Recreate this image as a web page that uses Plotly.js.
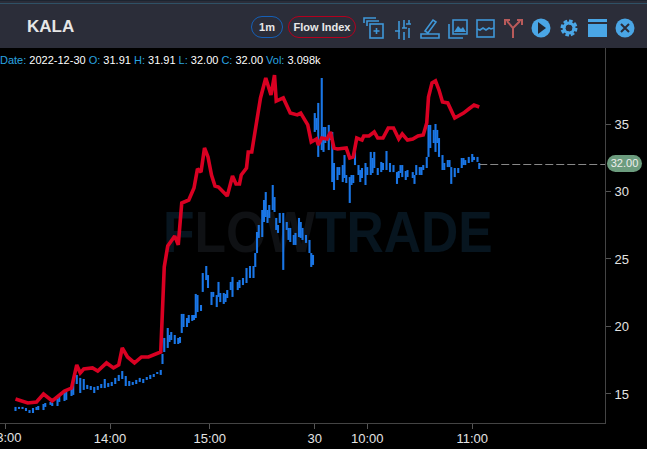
<!DOCTYPE html>
<html>
<head>
<meta charset="utf-8">
<script src="https://cdn.plot.ly/plotly-3.0.1.min.js"></script>
<style>
html, body { margin: 0; padding: 0; background: #000; overflow: hidden; font-family: "Liberation Sans", Arial, sans-serif; }
#wrap { position: relative; width: 647px; height: 449px; overflow: hidden; }
#mark { position: absolute; left: 163px; top: 198px; font: bold 58px "Liberation Sans", Arial, sans-serif; color: #07151f; white-space: nowrap; transform: scaleX(0.89); transform-origin: left top; }
#mark span { color: #0f1114; }
#chart { position: absolute; left: 0; top: 0; width: 647px; height: 449px; }
#head { position: absolute; left: 0; top: 0; width: 647px; height: 48px; background: #2b2d39; border-top: 1px solid #1c2430; box-sizing: border-box; }
#head:before { content: ""; position: absolute; left: 0; right: 0; top: 2px; height: 1px; background: #2f5166; }
#sym { position: absolute; left: 27px; top: 16px; font-size: 17px; font-weight: bold; color: #e6e6e6; }
.pill { position: absolute; top: 15px; height: 20px; line-height: 20px; text-align: center; font-size: 11px; font-weight: bold; color: #e8e8e8; border-radius: 12px; }
#head svg { position: absolute; left: 0; top: 0; }
#info { position: absolute; left: 0; top: 54px; font-size: 11px; line-height: 13px; color: #fff; white-space: pre; }
#info b { font-weight: normal; color: #2aa5e0; }
#last { position: absolute; left: 607px; top: 155px; width: 35px; height: 17px; line-height: 17px; text-align: center; font-size: 11px; color: #eee; background: #6c9c7e; border-radius: 9px; }
</style>
</head>
<body>
<div id="wrap">
  <div id="mark">F<span>LOW</span>TRADE</div>
  <div id="chart"></div>
  <div id="head">
    <div id="sym">KALA</div>
    <div class="pill" style="left:251px;width:30px;border:1.5px solid #1560b8">1m</div>
    <div class="pill" style="left:288px;width:66px;border:1.5px solid #b4001e">Flow Index</div>
    <svg width="647" height="48" fill="none" stroke="#3f97d8" stroke-width="1.6">
      <path d="M364 22v-5h12M367 25v-5h12"/><rect x="370" y="23" width="13" height="14"/><path d="M376.500 27v6M373.500 30h6"/>
      <path d="M395 30h5M399 20v18M404 19v8M404 31v8M409 19v4M409 27v10M402 27h5M406 23h5"/>
      <path d="M421 37h18v-4h-18zM425 30l8-11 3 2-8 11z"/>
      <path d="M449 23v14h14M453 19h14v14h-14z"/><path d="M454 31l4-6 3 3 2-2 3 5z" fill="#3f97d8" stroke="none"/>
      <rect x="477" y="19" width="17" height="17"/><path d="M477 28l3 1 3-2 3 2 3-2 2 1 3-1"/>
      <path d="M513 37v-10l-6-7M513 27l7-7M505 24v-5h5M517 19h5v5" stroke="#b85a5a" stroke-width="2"/>
      <circle cx="541" cy="27" r="9.500" fill="#4aa6e6" stroke="none"/><path d="M538 21l8 6-8 6z" fill="#23252f" stroke="none"/>
      <circle cx="569" cy="27" r="6" stroke="#4aa6e6" stroke-width="5" stroke-dasharray="3 1.600"/><circle cx="569" cy="27" r="5" stroke="#4aa6e6" stroke-width="3"/>
      <rect x="588" y="18" width="19" height="18" fill="#4aa6e6" stroke="none"/><rect x="588" y="21" width="19" height="2" fill="#2b2d39" stroke="none"/>
      <circle cx="625" cy="27" r="9.500" fill="#4aa6e6" stroke="none"/><path d="M621 23l8 8M629 23l-8 8" stroke="#2b2d39" stroke-width="2"/>
    </svg>
  </div>
  <div id="info"><b>Date:</b> 2022-12-30 <b>O:</b> 31.91 <b>H:</b> 31.91 <b>L:</b> 32.00 <b>C:</b> 32.00 <b>Vol:</b> 3.098k</div>
  <div id="last">32.00</div>
</div>
<script>
// minutes since the first bar on the axis, session gap closed up
const barMinute = [6,8,10,12,14,16,18,19,22,23,26,27,30,31,34,35,38,39,41,43,45,47,49,51,53,55,57,59,61,63,65,67,69,71,73,75,77,79,81,83,85,87,89,
    90,91,93,94,95,97,99,100,101,102,104,105,107,108,109,110,112,113,115,116,118,119,121,122,123,125,126,127,129,130,
    133,134,136,138,140,142,143,144,145,147,148,149,150,151,153,154,155,156,157,159,161,162,163,165,166,168,169,170,172,174,175,176,
    177,178,179,181,182,183,185,186,187,188,190,191,193,194,195,197,198,199,200,202,203,204,206,207,209,210,211,213,215,216,218,220,222,
    224,225,226,227,229,230,233,234,235,237,238,239,241,242,243,245,246,247,248,250,251,253,254,255,257,259,261,262,263,265,267,268,270,271];
const barLow = [13.74,13.89,13.89,13.74,13.59,13.59,13.81,13.81,13.81,14.04,14.19,14.11,14.11,14.41,14.48,14.56,14.85,14.93,15.74,15.07,15.30,15.37,15.30,15.07,15.30,15.44,15.44,15.52,15.59,15.74,15.96,16.11,15.59,15.59,15.67,15.74,15.89,15.81,16.04,16.11,16.26,16.48,16.41,
    17.22,18.11,18.41,18.85,19.00,18.70,18.70,18.78,19.52,19.96,19.96,20.26,20.41,20.48,20.63,21.07,21.15,22.56,23.44,22.85,21.59,22.19,21.44,22.19,21.81,21.67,21.81,22.11,22.70,22.19,
    22.70,22.85,23.07,23.22,23.59,23.59,24.41,25.44,26.56,26.63,27.74,28.11,27.67,28.04,28.63,28.48,27.15,26.93,27.67,24.19,27.15,26.41,26.26,26.04,26.04,26.63,26.56,26.41,26.19,25.44,24.41,24.56,
    34.41,34.56,32.56,33.07,32.93,33.59,33.07,33.81,30.70,30.11,30.85,31.22,30.70,31.00,30.63,29.15,30.48,30.63,31.96,31.22,30.70,31.00,30.48,31.22,31.22,31.37,31.74,31.22,31.44,31.59,31.59,31.44,31.44,
    30.56,31.00,31.37,31.07,30.85,31.07,31.00,30.56,31.22,31.22,31.22,31.59,31.74,32.56,33.22,33.59,32.93,33.59,32.56,31.59,31.59,31.81,31.81,30.56,31.07,31.37,31.74,31.96,31.96,32.11,32.19,32.33,32.19,31.67];
const barHigh = [14.04,14.04,14.04,13.96,13.81,13.96,14.04,14.11,14.26,14.33,14.41,14.33,14.63,14.85,15.07,15.22,15.44,16.04,16.41,16.19,16.11,15.67,15.59,15.52,15.59,15.74,16.11,15.81,15.89,16.19,16.41,16.70,16.33,15.96,15.89,16.04,16.19,16.11,16.26,16.41,16.48,16.63,16.78,
    17.96,19.15,19.89,19.37,19.59,19.37,19.15,19.22,20.93,20.93,20.63,20.85,20.85,20.85,22.41,22.33,21.59,23.96,24.48,23.81,22.56,22.56,22.33,23.30,22.48,22.48,22.41,22.70,23.30,23.67,
    23.30,23.44,23.59,24.33,24.48,24.48,25.44,27.00,27.52,28.63,29.37,29.96,28.63,29.00,30.48,29.59,28.04,27.52,28.41,28.41,27.74,27.30,27.30,26.78,26.93,28.04,27.74,27.30,26.78,26.41,25.44,25.30,
    35.81,35.44,36.56,38.41,34.78,34.78,34.93,34.33,34.41,32.11,31.81,31.81,31.96,32.70,31.22,31.07,31.22,31.22,32.93,31.96,31.59,31.74,32.11,31.81,32.93,32.48,32.93,31.74,32.19,32.11,33.00,32.11,31.96,
    31.44,31.52,31.96,31.96,31.52,31.59,31.44,31.22,31.96,31.81,31.81,31.96,32.56,34.93,34.93,34.56,35.00,34.56,33.96,32.70,32.11,32.33,32.33,31.81,31.74,31.74,32.48,32.48,32.33,32.56,32.78,32.56,32.56,32.11];

const flowMinute = [6,13,18,22,27,30,34,38,41,43,45,50,53,58,62,65,67,70,74,78,82,89,91,93,97,99,101,105,108,110,112,114,116,118,120,122,127,130,132,134,135,138,139,141,146,149,152,154,155,159,163,167,169,173,175,178,179,181,184,186,188,190,195,197,199,201,204,205,208,211,213,216,219,222,225,227,230,233,236,239,241,242,244,246,248,250,253,257,262,265,268,271];
const flowIndex = [14.63,14.33,14.41,15.00,14.48,14.78,15.22,15.44,17.15,16.56,16.85,16.93,16.70,17.30,16.93,17.15,18.41,17.74,17.30,17.74,17.74,18.11,24.41,25.96,26.70,26.04,29.15,29.37,30.26,31.67,31.44,33.22,32.56,31.22,30.41,30.33,29.67,31.15,30.56,30.56,31.22,31.74,32.93,32.93,36.93,38.41,37.15,38.63,36.70,36.93,35.81,35.67,35.81,34.93,33.67,33.89,33.44,33.96,33.89,34.41,33.22,33.15,33.22,32.48,32.56,33.96,33.81,34.11,34.11,34.41,33.96,33.96,34.70,34.70,33.89,34.26,33.81,33.89,34.11,34.19,35.07,37.00,38.04,38.19,37.52,36.63,36.56,35.44,35.81,36.11,36.41,36.26];

const lastPrice = 32.00;
const timeTicks = [0, 60, 117, 177, 207, 267];
const timeLabels = ['13:00', '14:00', '15:00', '30', '10:00', '11:00'];
const priceTicks = [15, 20, 25, 30, 35];

const axisFont = { family: 'Liberation Sans', size: 13, color: '#e4e4e4' };

const data = [
    {
        type: 'bar',
        x: barMinute,
        base: barLow,
        y: barHigh.map((h, i) => h - barLow[i]),
        width: 1.2,
        marker: { color: '#1a76e6', line: { width: 0 } },
        hoverinfo: 'skip'
    },
    {
        type: 'scatter',
        mode: 'lines',
        x: flowMinute,
        y: flowIndex,
        line: { color: '#d90022', width: 3.6 },
        hoverinfo: 'skip'
    }
];

const layout = {
    width: 647,
    height: 449,
    margin: { l: 0, r: 42, t: 48, b: 26, pad: 0 },
    paper_bgcolor: 'rgba(0,0,0,0)',
    plot_bgcolor: 'rgba(0,0,0,0)',
    showlegend: false,
    barmode: 'overlay',
    xaxis: {
        range: [-2.86, 342.86],
        tickmode: 'array',
        tickvals: timeTicks,
        ticktext: timeLabels,
        ticks: 'outside',
        ticklen: 5,
        tickcolor: '#555',
        ticklabelstandoff: -2,
        showgrid: false,
        zeroline: false,
        showline: true,
        linecolor: '#444',
        linewidth: 1,
        tickfont: axisFont
    },
    yaxis: {
        side: 'right',
        range: [12.85, 40.63],
        tickmode: 'array',
        tickvals: priceTicks,
        ticks: 'outside',
        ticklen: 5,
        tickcolor: '#555',
        ticklabelstandoff: 1,
        showgrid: false,
        zeroline: false,
        showline: true,
        linecolor: '#444',
        linewidth: 1,
        tickfont: axisFont
    },
    // plotly drops the first tick label because it hangs off the left edge
    annotations: [
        {
            xref: 'x', yref: 'paper', x: timeTicks[0], y: 0, yanchor: 'top', xanchor: 'center',
            yshift: -5, text: timeLabels[0], showarrow: false, font: axisFont
        }
    ],
    shapes: [
        {
            type: 'line', xref: 'x', yref: 'y',
            x0: barMinute[barMinute.length - 1], x1: 342.86, y0: lastPrice, y1: lastPrice,
            line: { color: '#888', width: 1, dash: '8px,3px' }
        }
    ]
};

Plotly.newPlot('chart', data, layout, { displayModeBar: false, staticPlot: true });
</script>
</body>
</html>
